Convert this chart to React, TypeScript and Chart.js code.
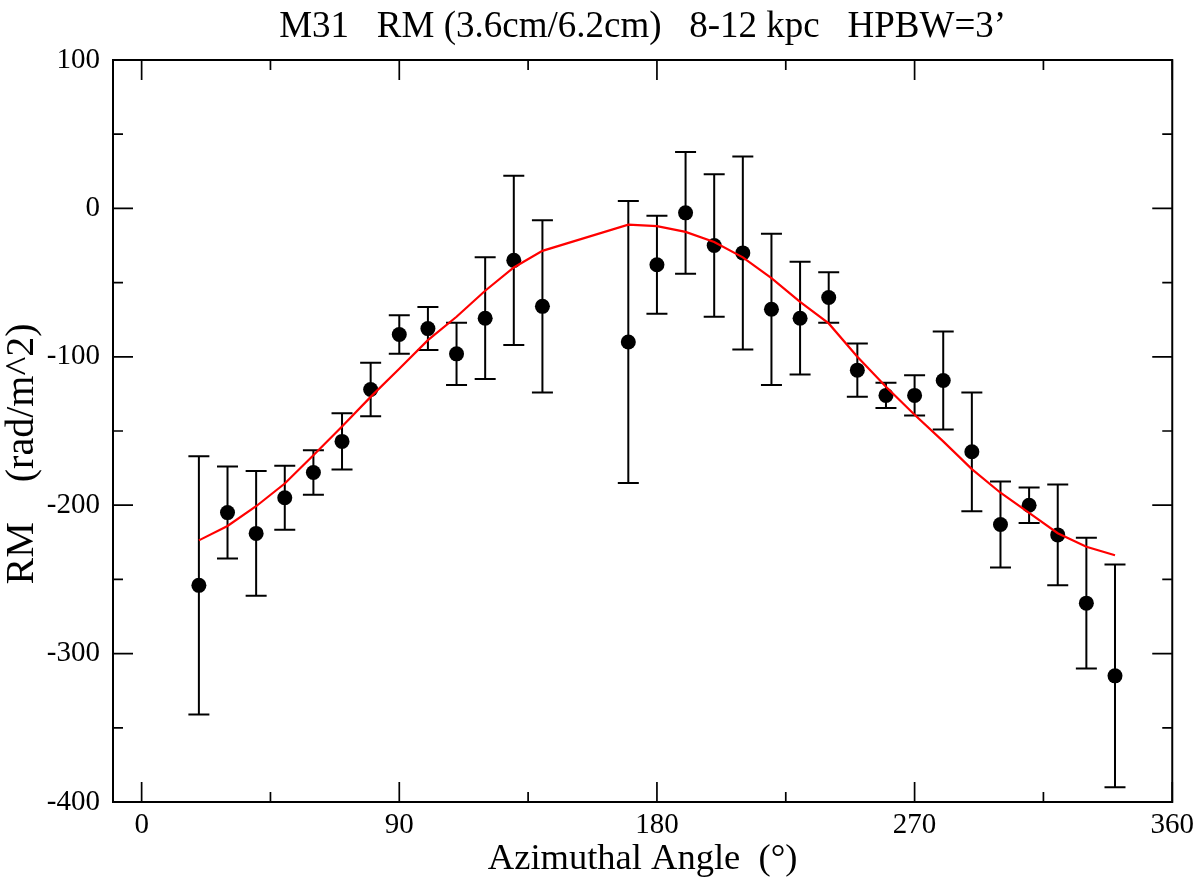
import React, { useEffect, useRef } from "react";
import { Chart, registerables } from "chart.js";

Chart.register(...registerables);

// Azimuthal angle (deg) of each sector
const angles = [20, 30, 40, 50, 60, 70, 80, 90, 100, 110, 120, 130, 140, 170, 180, 190, 200, 210, 220, 230, 240, 250, 260, 270, 280, 290, 300, 310, 320, 330, 340];
// Observed RM (rad/m^2)
const rmValues = [-254, -205, -219, -195, -178, -157, -122, -85, -81, -98, -74, -35, -66, -90, -38, -3, -25, -30, -68, -74, -60, -109, -126, -126, -116, -164, -213, -200, -220, -266, -315];
// RM errors (symmetric)
const rmErrors = [87, 31, 42, 21.5, 15, 19, 18, 13, 14.5, 21, 41, 57, 58, 95, 33, 41, 48, 65, 51, 38, 17, 18, 8.5, 13.5, 33, 40, 29, 12, 34, 44, 75];
// Model fit (red line)
const modelValues = [-223.7, -214, -200.7, -185.4, -166.4, -147, -127, -108, -88.8, -73, -55.5, -39.8, -28.6, -11, -11.9, -15.8, -22.7, -33, -47, -63, -77.5, -100, -120.2, -139, -157, -175.7, -191.6, -205.2, -218.9, -228, -233.7];

const xMajorTicks = [0, 90, 180, 270, 360];
const xMinorTicks = [45, 135, 225, 315];
const yMajorTicks = [100, 0, -100, -200, -300, -400];
const yMinorTicks = [50, -50, -150, -250, -350];

const titleText = "M31   RM (3.6cm/6.2cm)   8-12 kpc   HPBW=3’";
const xTitleText = "Azimuthal Angle  (°)";
const yTitleText = "RM    (rad/m^2)";

const SERIF = "'Liberation Serif', 'Times New Roman', Times, serif";

export default function App() {
  const ref = useRef<HTMLCanvasElement>(null);

  useEffect(() => {
    document.body.style.margin = "0";
    const canvas = ref.current;
    if (!canvas) return;

    const framePlugin = {
      id: "graceFrame",
      beforeDatasetsDraw(chart: any) {
        const { ctx, scales } = chart;
        const xs = scales.x;
        const ys = scales.y;
        ctx.save();
        ctx.strokeStyle = "#000";
        ctx.lineWidth = 2;
        for (let i = 0; i < angles.length; i++) {
          const px = xs.getPixelForValue(angles[i]);
          const pTop = ys.getPixelForValue(rmValues[i] + rmErrors[i]);
          const pBot = ys.getPixelForValue(rmValues[i] - rmErrors[i]);
          ctx.beginPath();
          ctx.moveTo(px, pTop);
          ctx.lineTo(px, pBot);
          ctx.moveTo(px - 10.5, pTop);
          ctx.lineTo(px + 10.5, pTop);
          ctx.moveTo(px - 10.5, pBot);
          ctx.lineTo(px + 10.5, pBot);
          ctx.stroke();
        }
        ctx.restore();
      },
      afterDraw(chart: any) {
        const { ctx, chartArea, scales } = chart;
        const xs = scales.x;
        const ys = scales.y;
        const { left, right, top, bottom } = chartArea;
        ctx.save();
        ctx.strokeStyle = "#000";
        // frame
        ctx.lineWidth = 2;
        ctx.strokeRect(left, top, right - left, bottom - top);
        // ticks (inward, all four sides)
        ctx.lineWidth = 1.7;
        ctx.beginPath();
        const xt = (vals: number[], len: number) => {
          vals.forEach((v) => {
            const p = xs.getPixelForValue(v);
            ctx.moveTo(p, bottom);
            ctx.lineTo(p, bottom - len);
            ctx.moveTo(p, top);
            ctx.lineTo(p, top + len);
          });
        };
        const yt = (vals: number[], len: number) => {
          vals.forEach((v) => {
            const p = ys.getPixelForValue(v);
            ctx.moveTo(left, p);
            ctx.lineTo(left + len, p);
            ctx.moveTo(right, p);
            ctx.lineTo(right - len, p);
          });
        };
        xt(xMajorTicks, 20);
        xt(xMinorTicks, 10);
        yt(yMajorTicks, 20);
        yt(yMinorTicks, 10);
        ctx.stroke();

        // titles
        ctx.fillStyle = "#000";
        const cx = (left + right) / 2;
        ctx.textAlign = "center";
        ctx.textBaseline = "alphabetic";
        ctx.font = `37px ${SERIF}`;
        ctx.fillText(titleText, cx, 37);
        ctx.font = `36.5px ${SERIF}`;
        ctx.fillText(xTitleText, cx, 869);
        ctx.translate(33, 454);
        ctx.rotate(-Math.PI / 2);
        ctx.font = `40px ${SERIF}`;
        ctx.fillText(yTitleText, 0, 0);
        ctx.restore();
      },
    };

    const tickFont = { family: SERIF, size: 29 };

    const chart = new Chart(canvas, {
      type: "scatter",
      data: {
        datasets: [
          {
            label: "model",
            data: angles.map((a, i) => ({ x: a, y: modelValues[i] })),
            showLine: true,
            borderColor: "#ff0000",
            backgroundColor: "#ff0000",
            borderWidth: 2.2,
            pointRadius: 0,
            tension: 0,
            fill: false,
          },
          {
            label: "RM",
            data: angles.map((a, i) => ({ x: a, y: rmValues[i] })),
            showLine: false,
            pointRadius: 7.5,
            pointBackgroundColor: "#000",
            pointBorderWidth: 0,
            backgroundColor: "#000",
            borderColor: "#000",
          },
        ],
      },
      options: {
        responsive: false,
        animation: false,
        devicePixelRatio: 1,
        layout: { padding: { top: 60, right: 26, left: 0, bottom: 0 } },
        plugins: {
          legend: { display: false },
          tooltip: { enabled: false },
          title: { display: false },
        },
        scales: {
          x: {
            type: "linear",
            min: -10,
            max: 360,
            afterBuildTicks: (s: any) => {
              s.ticks = xMajorTicks.map((v) => ({ value: v }));
            },
            afterFit: (s: any) => {
              s.height = 79;
            },
            grid: { display: false, drawTicks: false },
            border: { display: false },
            ticks: {
              font: tickFont,
              color: "#000",
              padding: 6,
              maxRotation: 0,
              autoSkip: false,
              callback: (v: any) => String(v),
            },
          },
          y: {
            type: "linear",
            min: -400,
            max: 100,
            afterBuildTicks: (s: any) => {
              s.ticks = yMajorTicks.map((v) => ({ value: v }));
            },
            afterFit: (s: any) => {
              s.width = 113;
            },
            grid: { display: false, drawTicks: false },
            border: { display: false },
            ticks: {
              font: tickFont,
              color: "#000",
              padding: 13,
              autoSkip: false,
              callback: (v: any) => String(v),
            },
          },
        },
      },
      plugins: [framePlugin],
    } as any);

    return () => chart.destroy();
  }, []);

  return (
    <div style={{ position: "absolute", left: 0, top: 0, width: 1200, height: 881, background: "#fff" }}>
      <canvas ref={ref} width={1200} height={881} style={{ display: "block", width: 1200, height: 881 }} />
    </div>
  );
}
